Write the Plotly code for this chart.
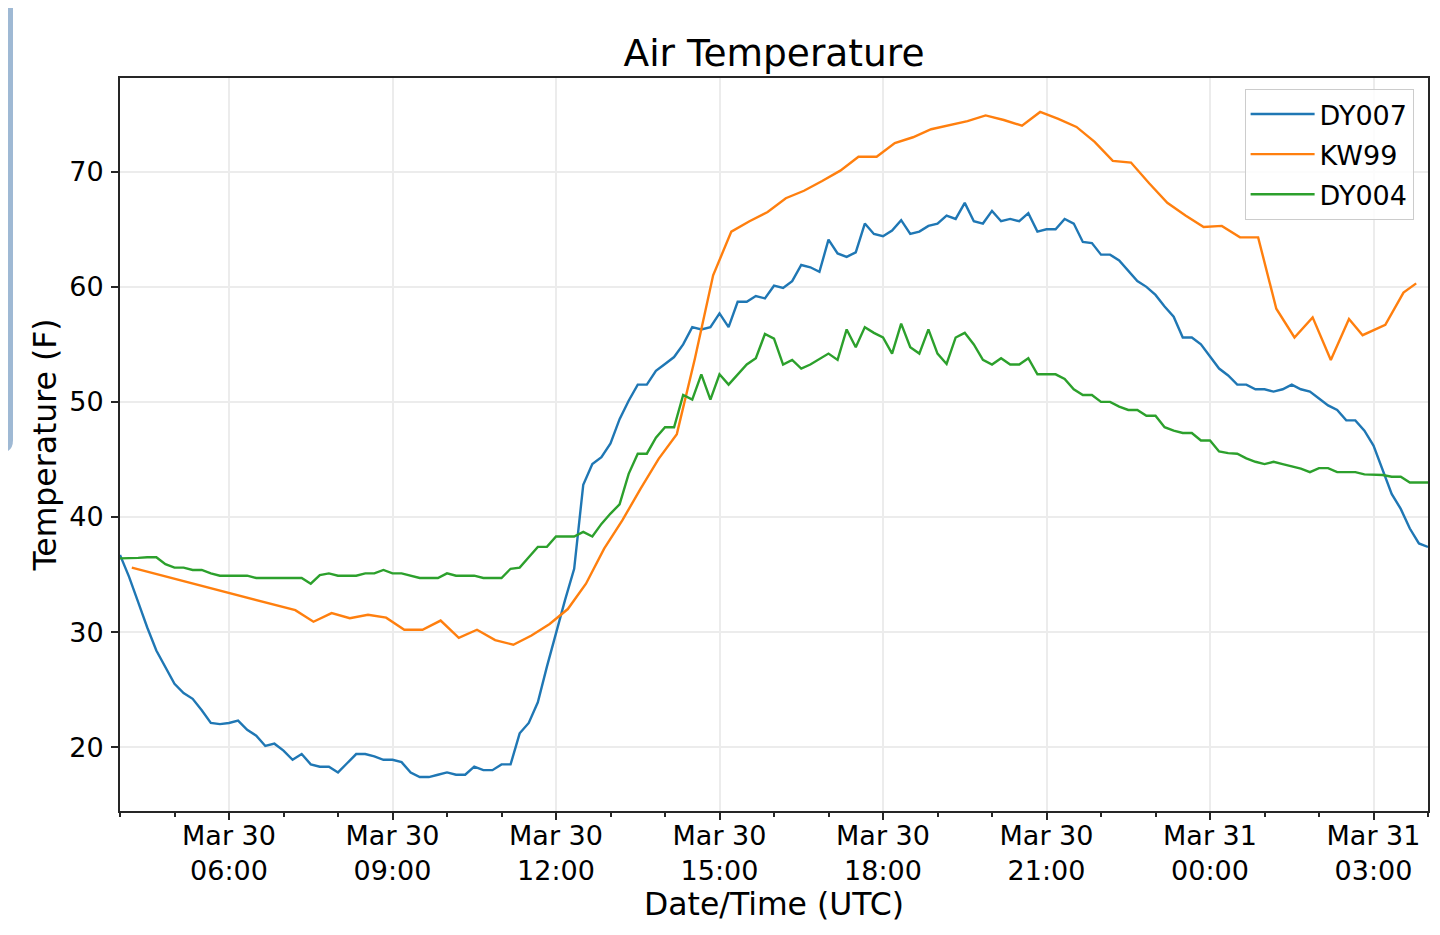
import pandas as pd
import plotly.graph_objects as go

# ---------------- data ----------------
start_time = "2019-03-30 04:00"
n_obs = 145  # 10-minute observations for DY007 / DY004

dy007_temp = [
    36.7, 34.8, 32.6, 30.4, 28.4, 27.0, 25.5, 24.7, 24.2, 23.2,
    22.1, 22.0, 22.1, 22.3, 21.5, 21.0, 20.1, 20.3, 19.7, 18.9,
    19.4, 18.5, 18.3, 18.3, 17.8, 18.6, 19.4, 19.4, 19.2, 18.9,
    18.9, 18.7, 17.8, 17.4, 17.4, 17.6, 17.8, 17.6, 17.6, 18.3,
    18.0, 18.0, 18.5, 18.5, 21.2, 22.1, 23.9, 27.0, 30.0, 32.8,
    35.5, 42.8, 44.6, 45.2, 46.4, 48.5, 50.1, 51.5, 51.5, 52.7,
    53.3, 53.9, 55.0, 56.5, 56.3, 56.5, 57.7, 56.5, 58.7, 58.7,
    59.2, 59.0, 60.1, 59.9, 60.5, 61.9, 61.7, 61.3, 64.1, 62.9,
    62.6, 63.0, 65.5, 64.6, 64.4, 64.9, 65.8, 64.6, 64.8, 65.3,
    65.5, 66.2, 65.9, 67.3, 65.7, 65.5, 66.6, 65.7, 65.9, 65.7,
    66.4, 64.8, 65.0, 65.0, 65.9, 65.5, 63.9, 63.8, 62.8, 62.8,
    62.3, 61.4, 60.5, 60.0, 59.3, 58.3, 57.4, 55.6, 55.6, 55.0,
    54.0, 52.9, 52.3, 51.5, 51.5, 51.1, 51.1, 50.9, 51.1, 51.5,
    51.1, 50.9, 50.3, 49.7, 49.3, 48.4, 48.4, 47.5, 46.2, 44.1,
    42.0, 40.7, 39.0, 37.7, 37.4,
]

dy004_temp = [
    36.4, 36.4, 36.45, 36.5, 36.5, 35.9, 35.6, 35.6, 35.4, 35.4,
    35.1, 34.9, 34.9, 34.9, 34.9, 34.7, 34.7, 34.7, 34.7, 34.7,
    34.7, 34.2, 34.95, 35.1, 34.9, 34.9, 34.9, 35.1, 35.1, 35.4,
    35.1, 35.1, 34.9, 34.7, 34.7, 34.7, 35.1, 34.9, 34.9, 34.9,
    34.7, 34.7, 34.7, 35.5, 35.6, 36.5, 37.4, 37.4, 38.3, 38.3,
    38.3, 38.7, 38.3, 39.4, 40.3, 41.1, 43.75, 45.5, 45.5, 46.9,
    47.8, 47.8, 50.6, 50.2, 52.4, 50.2, 52.4, 51.5, 52.4, 53.25,
    53.8, 55.9, 55.5, 53.25, 53.65, 52.9, 53.25, 53.7, 54.2, 53.65,
    56.3, 54.75, 56.5, 56.0, 55.6, 54.2, 56.8, 54.75, 54.2, 56.3,
    54.2, 53.3, 55.6, 56.0, 55.0, 53.65, 53.25, 53.8, 53.25, 53.25,
    53.8, 52.4, 52.4, 52.4, 52.0, 51.1, 50.6, 50.6, 50.0, 50.0,
    49.6, 49.3, 49.3, 48.8, 48.8, 47.8, 47.5, 47.3, 47.3, 46.65,
    46.65, 45.7, 45.55, 45.5, 45.1, 44.8, 44.6, 44.8, 44.6, 44.4,
    44.2, 43.9, 44.25, 44.25, 43.9, 43.9, 43.9, 43.7, 43.7, 43.65,
    43.5, 43.5, 43.0, 43.0, 43.0,
]

kw99_time = [
    "2019-03-30 04:13", "2019-03-30 07:13", "2019-03-30 07:33", "2019-03-30 07:53",
    "2019-03-30 08:13", "2019-03-30 08:33", "2019-03-30 08:53", "2019-03-30 09:13",
    "2019-03-30 09:33", "2019-03-30 09:53", "2019-03-30 10:13", "2019-03-30 10:33",
    "2019-03-30 10:53", "2019-03-30 11:13", "2019-03-30 11:33", "2019-03-30 11:53",
    "2019-03-30 12:13", "2019-03-30 12:33", "2019-03-30 12:53", "2019-03-30 13:13",
    "2019-03-30 13:33", "2019-03-30 13:53", "2019-03-30 14:13", "2019-03-30 14:33",
    "2019-03-30 14:53", "2019-03-30 15:13", "2019-03-30 15:33", "2019-03-30 15:53",
    "2019-03-30 16:13", "2019-03-30 16:33", "2019-03-30 16:53", "2019-03-30 17:13",
    "2019-03-30 17:33", "2019-03-30 17:53", "2019-03-30 18:13", "2019-03-30 18:33",
    "2019-03-30 18:53", "2019-03-30 19:13", "2019-03-30 19:33", "2019-03-30 19:53",
    "2019-03-30 20:13", "2019-03-30 20:33", "2019-03-30 20:53", "2019-03-30 21:13",
    "2019-03-30 21:33", "2019-03-30 21:53", "2019-03-30 22:13", "2019-03-30 22:33",
    "2019-03-30 22:53", "2019-03-30 23:13", "2019-03-30 23:33", "2019-03-30 23:53",
    "2019-03-31 00:13", "2019-03-31 00:33", "2019-03-31 00:53", "2019-03-31 01:13",
    "2019-03-31 01:33", "2019-03-31 01:53", "2019-03-31 02:13", "2019-03-31 02:33",
    "2019-03-31 02:48", "2019-03-31 03:13", "2019-03-31 03:33", "2019-03-31 03:47",
]
kw99_temp = [
    35.6, 31.9, 30.9, 31.65, 31.2, 31.5, 31.25, 30.2,
    30.2, 31.0, 29.5, 30.2, 29.3, 28.9, 29.7, 30.7,
    32.0, 34.2, 37.25, 39.7, 42.45, 45.05, 47.2, 53.8,
    61.0, 64.8, 65.7, 66.5, 67.7, 68.35, 69.2, 70.1,
    71.3, 71.3, 72.5, 73.0, 73.7, 74.05, 74.4, 74.9,
    74.5, 74.0, 75.2, 74.6, 73.9, 72.6, 70.95, 70.8,
    69.0, 67.3, 66.2, 65.2, 65.3, 64.3, 64.3, 58.1,
    55.6, 57.35, 53.65, 57.2, 55.8, 56.7, 59.5, 60.3,
]

series_names = ["DY007", "KW99", "DY004"]
series_colors = ["#1f77b4", "#ff7f0e", "#2ca02c"]

x_range = ["2019-03-30 04:00", "2019-03-31 04:00"]
y_ticks = [20, 30, 40, 50, 60, 70]

# ---------------- figure ----------------
obs_time = pd.date_range(start_time, periods=n_obs, freq="10min")
xs = [obs_time, pd.to_datetime(kw99_time), obs_time]
ys = [dy007_temp, kw99_temp, dy004_temp]

FONT = "DejaVu Sans"
W, H = 1432, 927  # page body has an 8px margin

fig = go.Figure()
for name, color, x, y in zip(series_names, series_colors, xs, ys):
    fig.add_trace(go.Scatter(
        x=x, y=y, mode="lines", name=name, legendgroup=name,
        line=dict(color=color, width=2.4),
    ))

fig.update_layout(
    width=W, height=H,
    margin=dict(l=112, r=10, t=70, b=124),
    paper_bgcolor="white", plot_bgcolor="white",
    font=dict(family=FONT, size=27, color="#000"),
    title=dict(text="Air Temperature", x=0.5, xanchor="center", xref="paper",
               y=1 - 45 / H, yanchor="middle", font=dict(size=37.5, family=FONT)),
    showlegend=True,
    legend=dict(x=0.989, xanchor="right", y=0.985, yanchor="top",
                bgcolor="rgba(255,255,255,0.85)", bordercolor="#cccccc", borderwidth=1,
                font=dict(size=27, family=FONT), traceorder="grouped",
                tracegroupgap=2, itemwidth=64),
)

fig.update_xaxes(
    type="date", range=x_range,
    tick0="2019-03-30 00:00", dtick=3 * 3600 * 1000,
    tickformat="%b %d<br>%H:%M",
    ticks="outside", ticklen=7, tickwidth=1.8, tickcolor="#262626",
    ticklabelstandoff=-7,
    showline=True, linecolor="#262626", linewidth=1.8, mirror=True,
    showgrid=True, gridcolor="#ececec", gridwidth=2,
    zeroline=False,
    minor=dict(dtick=3600 * 1000, ticks="outside", ticklen=4, tickwidth=1.5,
               tickcolor="#262626", showgrid=False),
    title=dict(text="Date/Time (UTC)", font=dict(size=31.5, family=FONT), standoff=5),
    tickfont=dict(size=27, family=FONT),
)
fig.update_yaxes(
    range=[14.45, 78.15], tickvals=y_ticks,
    ticks="outside", ticklen=7, tickwidth=1.8, tickcolor="#262626",
    ticklabelstandoff=2,
    showline=True, linecolor="#262626", linewidth=1.8, mirror=True,
    showgrid=True, gridcolor="#ececec", gridwidth=2,
    zeroline=False,
    title=dict(text="Temperature (F)", font=dict(size=31.5, family=FONT), standoff=3),
    tickfont=dict(size=27, family=FONT),
)

# screenshot artefact at the left edge (rounded blue-grey tab)
fig.add_shape(
    type="path", xref="paper", yref="paper", xsizemode="pixel", ysizemode="pixel",
    xanchor=0, yanchor=1,
    path="M -130 90 L -107 90 L -107 -362 Q -107 -375 -120 -375 L -130 -375 Z",
    fillcolor="#9fb9d4", line=dict(width=0), layer="above",
)

fig.write_html("out.html")
